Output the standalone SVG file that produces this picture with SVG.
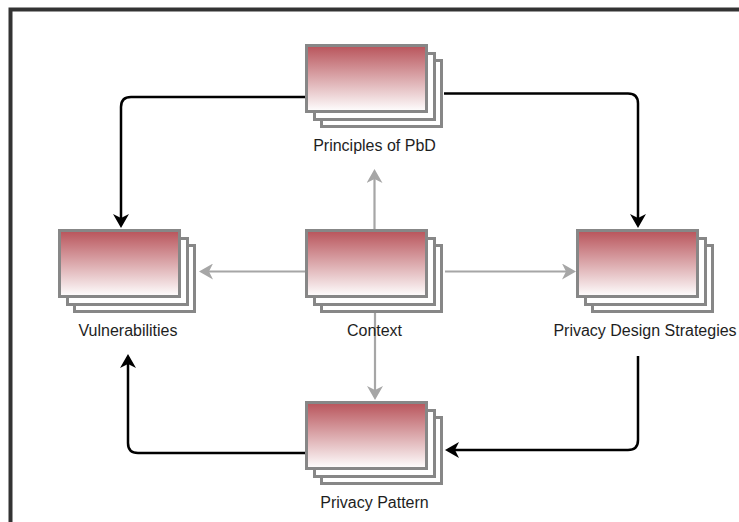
<svg xmlns="http://www.w3.org/2000/svg" width="739" height="522" viewBox="0 0 739 522">
  <style>
    .card { stroke: #878787; stroke-width: 3; }
    .back { fill: #ffffff; }
    .front { fill: url(#redFade); }
    .label { font-family: "Liberation Sans", Arial, Helvetica, sans-serif; font-size: 16px; fill: #1e1e1e; text-anchor: middle; }
    .main { fill: none; stroke: #000000; stroke-width: 2.5; marker-end: url(#headBlack); }
    .aux { fill: none; stroke: #a6a6a6; stroke-width: 2.2; marker-end: url(#headGray); }
    .frame { fill: none; stroke: #333333; stroke-width: 4; }
  </style>
  <defs>
    <linearGradient id="redFade" x1="0" y1="0" x2="0" y2="1">
      <stop offset="0" stop-color="#b8535a"/>
      <stop offset="1" stop-color="#ffffff"/>
    </linearGradient>
    <marker id="headBlack" viewBox="0 0 14 16" refX="11" refY="8" markerWidth="14" markerHeight="16" markerUnits="userSpaceOnUse" orient="auto">
      <path d="M0,0 L14,8 L0,16 L4,8 Z" fill="#000000"/>
    </marker>
    <marker id="headGray" viewBox="0 0 14 16" refX="11" refY="8" markerWidth="14" markerHeight="16" markerUnits="userSpaceOnUse" orient="auto">
      <path d="M0,0 L14,8 L0,16 L4,8 Z" fill="#a6a6a6"/>
    </marker>
    <!-- stack of three cards; front card at the origin -->
    <g id="stack">
      <rect class="card back" x="15" y="15" width="120" height="66"/>
      <rect class="card back" x="8" y="8" width="120" height="66"/>
      <rect class="card front" x="0" y="0" width="120" height="66"/>
    </g>
  </defs>

  <rect x="0" y="0" width="739" height="522" fill="#ffffff"/>
  <!-- outer frame (top and left edges) -->
  <path class="frame" d="M10.5,522 V9.5 H739"/>

  <g id="connectors">
    <path class="main" d="M305,97 H131 Q121,97 121,107 V225"/>
    <path class="main" d="M444,93.5 H628 Q638,93.5 638,103.5 V225"/>
    <path class="main" d="M638,356 V440 Q638,450 628,450 H448"/>
    <path class="main" d="M305,453 H138 Q128,453 128,443 V357"/>
    <path class="aux" d="M374.5,229 V172"/>
    <path class="aux" d="M305,271.5 H202"/>
    <path class="aux" d="M445,271.5 H573"/>
    <path class="aux" d="M375,313 V397"/>
  </g>

  <g id="principles">
    <use href="#stack" transform="translate(306.5,45.5)"/>
    <text class="label" x="374.5" y="151">Principles of PbD</text>
  </g>
  <g id="vulnerabilities">
    <use href="#stack" transform="translate(59.5,230.5)"/>
    <text class="label" x="128" y="336">Vulnerabilities</text>
  </g>
  <g id="context">
    <use href="#stack" transform="translate(306.5,230.5)"/>
    <text class="label" x="374.5" y="336">Context</text>
  </g>
  <g id="strategies">
    <use href="#stack" transform="translate(577.5,230.5)"/>
    <text class="label" x="645" y="336">Privacy Design Strategies</text>
  </g>
  <g id="pattern">
    <use href="#stack" transform="translate(306.5,402.5)"/>
    <text class="label" x="374.5" y="508">Privacy Pattern</text>
  </g>
</svg>
